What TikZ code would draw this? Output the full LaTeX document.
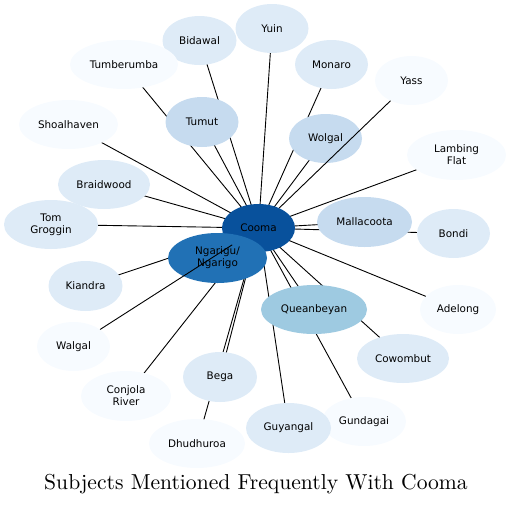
\documentclass[tikz,border=0pt]{standalone}
\usepackage{fontspec}
\setsansfont{DejaVu Sans}
\usetikzlibrary{shapes.geometric}
\definecolor{cA}{HTML}{08519C}
\definecolor{cB}{HTML}{2171B5}
\definecolor{cC}{HTML}{9ECAE1}
\definecolor{cD}{HTML}{C6DBEF}
\definecolor{cE}{HTML}{DEEBF7}
\definecolor{cF}{HTML}{F7FBFF}
\pgfdeclarelayer{edges}
\pgfsetlayers{edges,main}
\tikzset{
  bub/.style={ellipse, inner sep=0pt, draw=none, text=black, align=center,
    font=\sffamily\fontsize{10.4}{12}\selectfont},
  conn/.style={draw=black, line width=0.9pt},
  ttl/.style={anchor=base, scale=2.16, transform shape, font=\rmfamily\fontsize{10}{12}\selectfont}
}
\newcommand{\bubble}[6]{\node[bub, fill=#5, minimum width=#3pt, minimum height=#4pt] (#1) at (#2) {#6};}
\begin{document}
\begin{tikzpicture}[x=1pt,y=-1pt]
\useasboundingbox (0,0) rectangle (511,504);
\bubble{cooma}{258.5,228}{73}{48}{cA}{Cooma}
\bubble{ngarigo}{217.5,258}{99}{50}{cB}{Ngarigu/\\Ngarigo}
\bubble{queanbeyan}{314,309.5}{106}{49}{cC}{Queanbeyan}
\bubble{mallacoota}{364.5,222}{95}{50}{cD}{Mallacoota}
\bubble{wolgal}{325.5,138.5}{73}{49}{cD}{Wolgal}
\bubble{tumut}{202,122}{73}{50}{cD}{Tumut}
\bubble{bondi}{453.5,233.5}{73}{49}{cE}{Bondi}
\bubble{monaro}{331.5,64.5}{73}{49}{cE}{Monaro}
\bubble{yuin}{272,28.5}{73}{49}{cE}{Yuin}
\bubble{bidawal}{199.5,40.5}{74}{49}{cE}{Bidawal}
\bubble{braidwood}{104,184.5}{92}{49}{cE}{Braidwood}
\bubble{tomgroggin}{51,224.5}{94}{49}{cE}{Tom\\Groggin}
\bubble{kiandra}{85.5,286}{74}{50}{cE}{Kiandra}
\bubble{bega}{220,377}{74}{50}{cE}{Bega}
\bubble{cowombut}{403,358.5}{92}{49}{cE}{Cowombut}
\bubble{gundagai}{364,421.5}{84}{49}{cF}{Gundagai}
\bubble{guyangal}{288.5,428}{85}{50}{cE}{Guyangal}
\bubble{tumberumba}{124,64.5}{108}{49}{cF}{Tumberumba}
\bubble{shoalhaven}{68.5,124.5}{99}{49}{cF}{Shoalhaven}
\bubble{lambing}{456.5,155}{99}{50}{cF}{Lambing\\Flat}
\bubble{yass}{411.5,80.5}{73}{49}{cF}{Yass}
\bubble{walgal}{73.5,346.5}{73}{49}{cF}{Walgal}
\bubble{conjola}{126,396}{90}{50}{cF}{Conjola\\River}
\bubble{dhudhuroa}{197,443.5}{96}{49}{cF}{Dhudhuroa}
\bubble{adelong}{458,309.5}{76}{49}{cF}{Adelong}
\begin{pgfonlayer}{edges}
\foreach \t in {ngarigo,queanbeyan,mallacoota,wolgal,tumut,bondi,monaro,yuin,bidawal,braidwood,tomgroggin,kiandra,bega,cowombut,gundagai,guyangal,tumberumba,shoalhaven,lambing,conjola,dhudhuroa,adelong}
  \draw[conn] (cooma.center) -- (\t.center);
\end{pgfonlayer}
\draw[conn] (walgal) -- (cooma);
\draw[conn] (yass) -- (cooma);
\node[ttl] (title) at (256,489) {Subjects Mentioned Frequently With Cooma};
\end{tikzpicture}
\end{document}
